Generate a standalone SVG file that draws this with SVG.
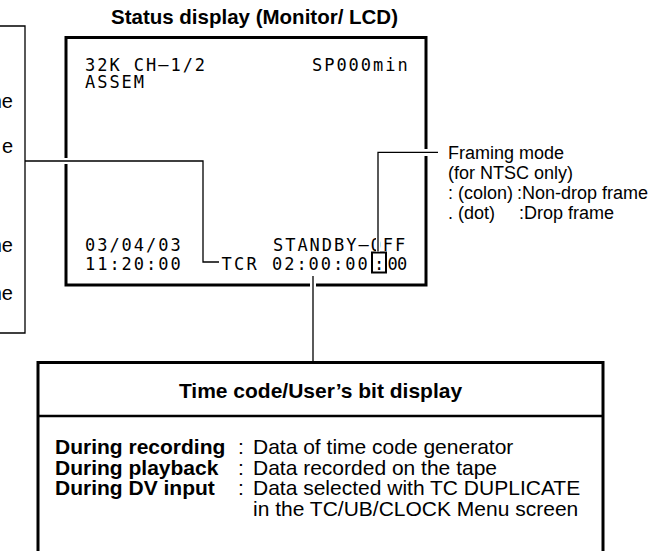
<svg xmlns="http://www.w3.org/2000/svg" width="669" height="551" viewBox="0 0 669 551">
<style>
.t{font-family:"Liberation Sans",Arial,Helvetica,sans-serif;fill:#000}
.b{font-weight:bold}
.s18{font-size:18px}
.s21{font-size:21px}
.m{font-family:"DejaVu Sans Mono",monospace;font-size:17px;letter-spacing:1.97px;fill:#000}
.thin{fill:none;stroke:#000;stroke-width:1.3}
.gap{fill:#fff}
.halo{fill:none;stroke:#fff;stroke-width:4}
.frame{fill:none;stroke:#000;stroke-width:3}
</style>
<rect width="669" height="551" fill="#fff"/>

<g id="title">
<text class="t b" x="254.5" y="24" font-size="20.5" text-anchor="middle">Status display (Monitor/ LCD)</text>
</g>

<g id="left-labels">
<text class="t" font-size="20" x="13" y="107.5" text-anchor="end">ne</text>
<text class="t" font-size="20" x="13" y="153" text-anchor="end">e</text>
<text class="t" font-size="20" x="13" y="252" text-anchor="end">ne</text>
<text class="t" font-size="20" x="13" y="300" text-anchor="end">ne</text>
</g>

<g id="monitor">
<rect class="frame" x="66" y="37.5" width="360" height="247.5"/>
<text class="m" x="85" y="70.5">32K CH–1/2</text>
<text class="m" x="85" y="87.5">ASSEM</text>
<text class="m" x="312" y="70.5">SP000min</text>
<text class="m" x="85" y="251">03/04/03</text>
<text class="m" x="85" y="269.5">11:20:00</text>
<text class="m" x="273" y="251">STANDBY–OFF</text>
<text class="m" style="letter-spacing:0" x="221.5 234 246.5 258.6 272 284.2 296.4 308.6 320.8 333 345.2 357.4 374 387.5 397" y="269.5">TCR 02:00:00:00</text>
<rect x="372" y="252.5" width="14" height="20" fill="none" stroke="#000" stroke-width="2"/>
</g>

<g id="framing-label">
<text class="t s18" x="448" y="158.5">Framing mode</text>
<text class="t s18" x="448" y="178.5">(for NTSC only)</text>
<text class="t s18" x="448" y="198.5">: (colon)</text>
<text class="t s18" x="517" y="198.5">:Non-drop frame</text>
<text class="t s18" x="448" y="218.5">. (dot)</text>
<text class="t s18" x="519" y="218.5">:Drop frame</text>
</g>

<g id="tc-box">
<rect class="frame" x="38" y="362.5" width="565" height="200"/>
<line x1="38" y1="416" x2="603" y2="416" stroke="#000" stroke-width="2.5"/>
<text class="t b s21" x="320.5" y="398" text-anchor="middle">Time code/User’s bit display</text>
<text class="t b s21" x="55" y="454">During recording</text>
<text class="t b s21" x="55" y="474.7">During playback</text>
<text class="t b s21" x="55" y="495.3">During DV input</text>
<text class="t s21" x="238" y="454">:</text>
<text class="t s21" x="238" y="474.7">:</text>
<text class="t s21" x="238" y="495.3">:</text>
<text class="t s21" x="253" y="454">Data of time code generator</text>
<text class="t s21" x="253" y="474.7">Data recorded on the tape</text>
<text class="t s21" x="253" y="495.3">Data selected with TC DUPLICATE</text>
<text class="t s21" x="253" y="516">in the TC/UB/CLOCK Menu screen</text>
</g>

<g id="connectors">
<path class="thin" d="M0 26H25V333H0"/>
<rect class="gap" x="63" y="158" width="6" height="6"/>
<path class="thin" d="M25 161H203V262H219"/>
<rect class="gap" x="423" y="149" width="7" height="7"/>
<line class="halo" x1="378" y1="251.5" x2="378" y2="236"/>
<path class="thin" d="M378 251.5V152.3H438"/>
<rect class="gap" x="310" y="282" width="6" height="6"/>
<line class="thin" x1="313" y1="276" x2="313" y2="362"/>
</g>
</svg>
